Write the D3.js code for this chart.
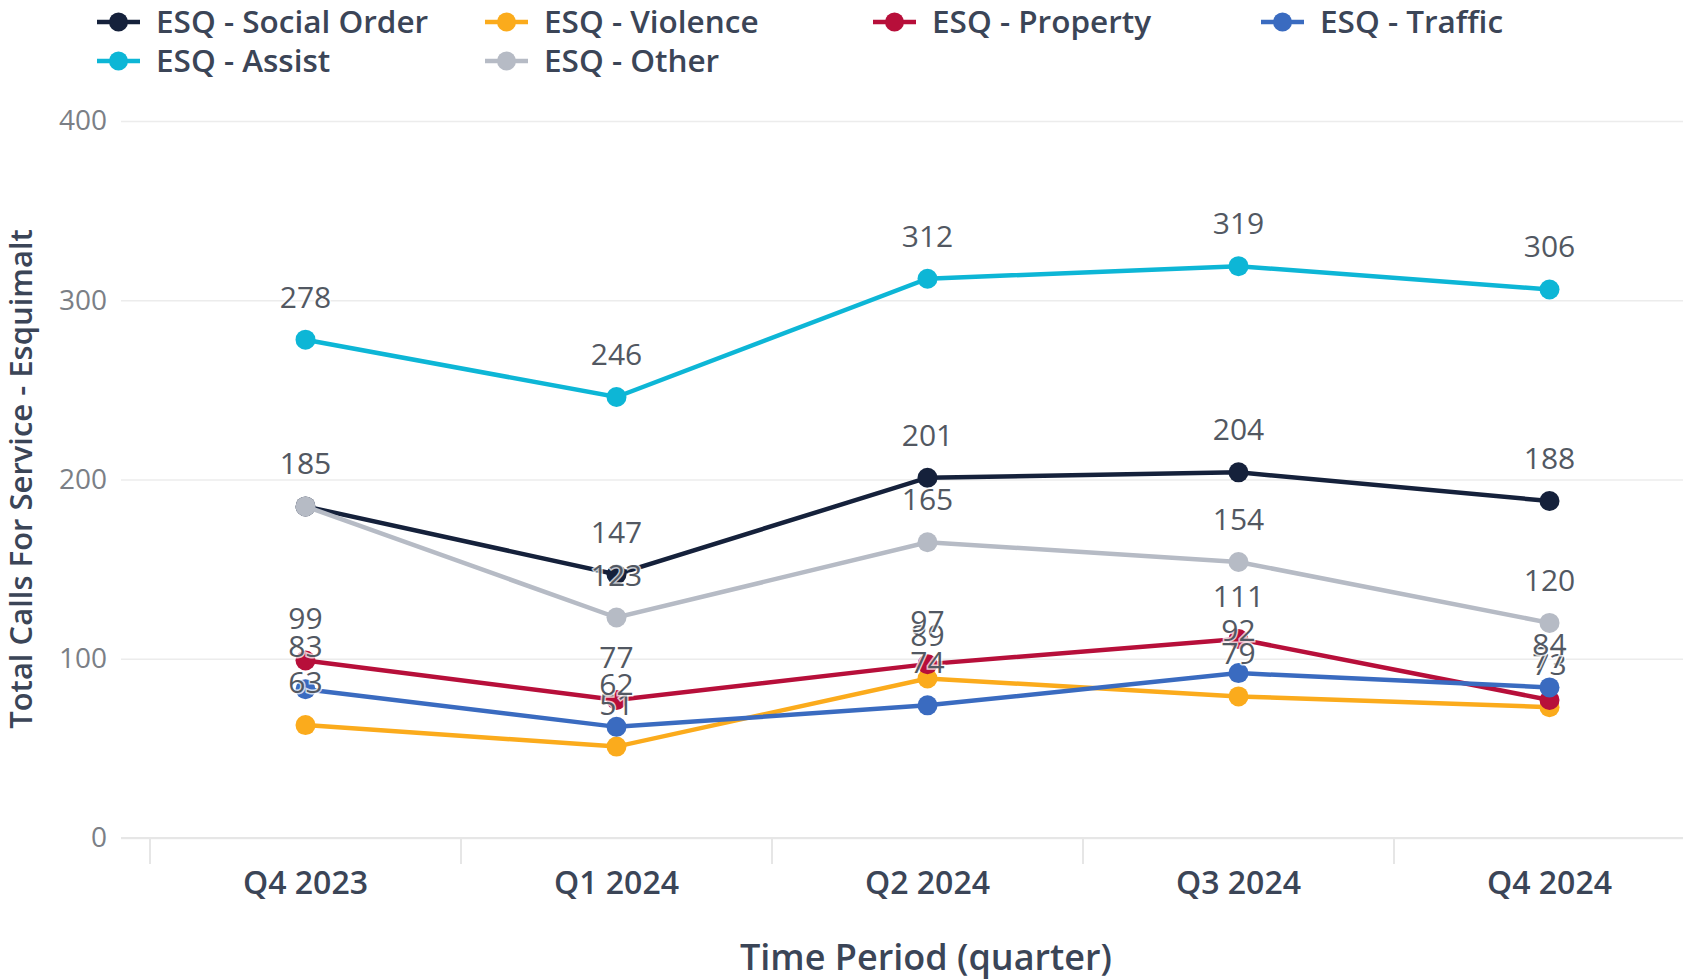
<!DOCTYPE html>
<html>
<head>
<meta charset="utf-8">
<script src="https://cdn.jsdelivr.net/npm/d3@7"></script>
<style>
    body { margin: 0; background: #fff; }
    text { font-family: "Open Sans", "Noto Sans", sans-serif; }
</style>
</head>
<body>
<div id="chart"></div>
<script>
// quarters on the x axis
let quarters = ["Q4 2023", "Q1 2024", "Q2 2024", "Q3 2024", "Q4 2024"]

// series, in legend / drawing order
let seriesNames = ["ESQ - Social Order", "ESQ - Violence", "ESQ - Property", "ESQ - Traffic", "ESQ - Assist", "ESQ - Other"]
let seriesColors = ["#15213b", "#fbab1c", "#b70f3a", "#3a6bc0", "#0db6d6", "#b6bbc5"]

let socialOrder = [185, 147, 201, 204, 188]
let violence = [63, 51, 89, 79, 73]
let property = [99, 77, 97, 111, 77]
let traffic = [83, 62, 74, 92, 84]
let assist = [278, 246, 312, 319, 306]
let other = [185, 123, 165, 154, 120]

let seriesValues = [socialOrder, violence, property, traffic, assist, other]

let yTicks = [0, 100, 200, 300, 400]

let W = 1683, H = 980

let svg = d3.select("#chart").append("svg")
    .attr("width", W)
    .attr("height", H)

// scales
let x = d3.scaleBand().domain(quarters).range([150, 1705]).padding(0)
let y = d3.scaleLinear().domain([0, 400]).range([838, 121])
let cx = q => x(q) + x.bandwidth() / 2

// y grid + labels
let yAxis = d3.axisLeft(y).tickValues(yTicks).tickSize(-(W - 121)).tickPadding(14)
let yg = svg.append("g")
    .attr("class", "y-axis")
    .attr("transform", "translate(121,0)")
    .call(yAxis)
yg.select(".domain").remove()
yg.selectAll(".tick line").attr("stroke", "#ececec").attr("stroke-width", 1.5)
yg.selectAll(".tick text")
    .attr("fill", "#7b7f86")
    .style("font-size", "28px")

// x axis: baseline and band separators
let xAxis = d3.axisBottom(x).tickSize(0).tickPadding(33)
let xg = svg.append("g")
    .attr("class", "x-axis")
    .attr("transform", "translate(0,838)")
    .call(xAxis)
xg.select(".domain").remove()
xg.selectAll(".tick text")
    .attr("fill", "#3b4557")
    .style("font-size", "32px")
    .style("font-weight", 600)

svg.append("line")
    .attr("x1", 121).attr("x2", W)
    .attr("y1", 838).attr("y2", 838)
    .attr("stroke", "#e6e6e6").attr("stroke-width", 2)

svg.append("g").selectAll("line")
    .data(quarters)
    .enter().append("line")
    .attr("x1", d => x(d)).attr("x2", d => x(d))
    .attr("y1", 838).attr("y2", 864)
    .attr("stroke", "#e6e6e6").attr("stroke-width", 2)

// axis titles
svg.append("text")
    .text("Total Calls For Service - Esquimalt")
    .attr("transform", "translate(32,479) rotate(-90)")
    .attr("text-anchor", "middle")
    .attr("fill", "#3b4557")
    .style("font-size", "31px")
    .style("font-weight", 600)

svg.append("text")
    .text("Time Period (quarter)")
    .attr("x", 926)
    .attr("y", 970)
    .attr("text-anchor", "middle")
    .attr("fill", "#3b4557")
    .style("font-size", "36px")
    .style("font-weight", 600)

// lines and dots
let line = d3.line()
    .x((d, i) => cx(quarters[i]))
    .y(d => y(d))

let series = svg.append("g").selectAll(".series")
    .data(seriesValues)
    .enter().append("g")
    .attr("class", "series")

series.append("path")
    .attr("d", d => line(d))
    .attr("fill", "none")
    .attr("stroke", (d, i) => seriesColors[i])
    .attr("stroke-width", 4.5)

series.selectAll("circle")
    .data((d, i) => d.map((v, j) => ({v: v, q: quarters[j], c: seriesColors[i]})))
    .enter().append("circle")
    .attr("cx", d => cx(d.q))
    .attr("cy", d => y(d.v))
    .attr("r", 10)
    .attr("fill", d => d.c)

// data labels on top of everything, with a soft white halo
let labelData = []
seriesValues.forEach(vals => vals.forEach((v, j) => labelData.push({v: v, q: quarters[j]})))

svg.append("g").selectAll("text")
    .data(labelData)
    .enter().append("text")
    .text(d => d.v)
    .attr("x", d => cx(d.q))
    .attr("y", d => y(d.v) - 32)
    .attr("text-anchor", "middle")
    .attr("fill", "#525862")
    .attr("stroke", "rgba(255,255,255,0.75)")
    .attr("stroke-width", 3)
    .style("paint-order", "stroke")
    .style("font-size", "30px")

// legend
let legend = svg.append("g").selectAll(".legend-item")
    .data(seriesNames)
    .enter().append("g")
    .attr("class", "legend-item")
    .attr("transform", (d, i) => `translate(${97 + (i % 4) * 388}, ${22 + Math.floor(i / 4) * 39})`)

legend.append("line")
    .attr("x1", 0).attr("x2", 43)
    .attr("y1", 0).attr("y2", 0)
    .attr("stroke", (d, i) => seriesColors[i])
    .attr("stroke-width", 4.5)

legend.append("circle")
    .attr("cx", 21.5).attr("cy", 0).attr("r", 9.5)
    .attr("fill", (d, i) => seriesColors[i])

legend.append("text")
    .text(d => d)
    .attr("x", 59)
    .attr("y", 0)
    .attr("dy", "0.35em")
    .attr("fill", "#3b4557")
    .style("font-size", "31.5px")
    .style("font-weight", 600)
</script>
</body>
</html>
